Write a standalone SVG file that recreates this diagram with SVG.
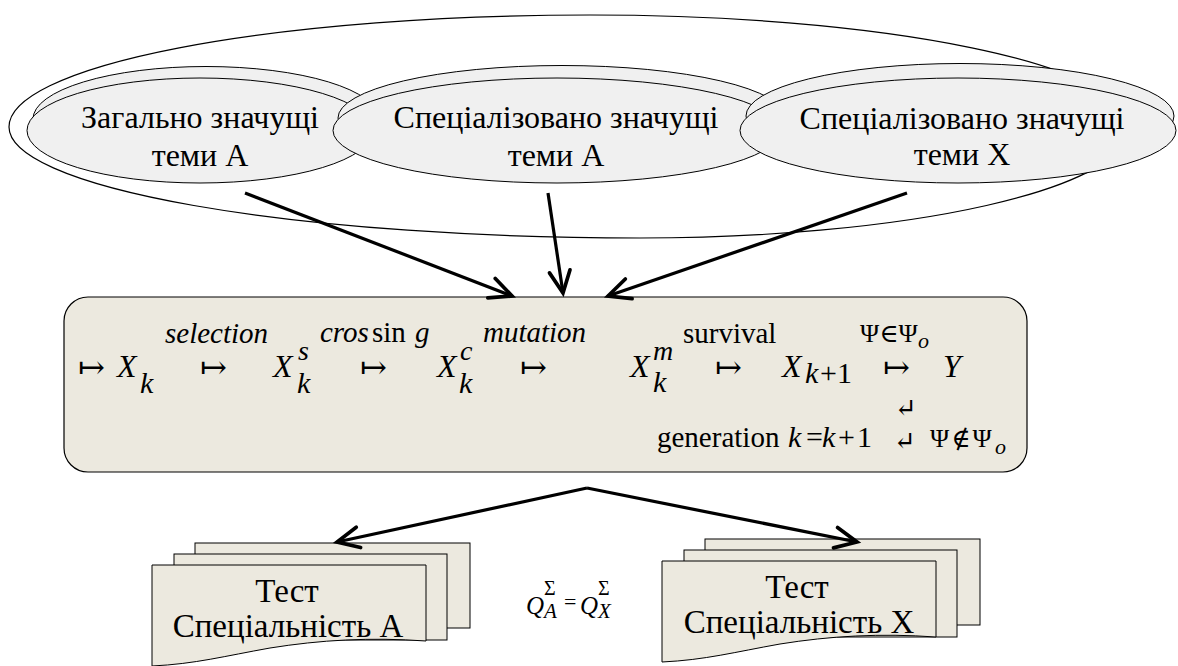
<svg xmlns="http://www.w3.org/2000/svg" width="1178" height="666" viewBox="0 0 1178 666">
<style>
.ell{fill:#f0f0f0;stroke:#000;stroke-width:1}
.t{fill:#000;font-family:"Liberation Serif","Times New Roman",Tinos,"DejaVu Serif",serif}
.big{font-size:32px}
.lab{font-size:29px}
.it{font-style:italic}
.con{fill:none;stroke:#000;stroke-width:3.2}
.doc{fill:#ece9df;stroke:#000;stroke-width:1}
</style>
<defs>
<marker id="ah" markerUnits="userSpaceOnUse" markerWidth="30" markerHeight="30" refX="0" refY="0" viewBox="-22 -12 26 24" orient="auto" overflow="visible">
<path d="M-19,-9 L0,0 L-19,9" fill="none" stroke="#000" stroke-width="3.2" stroke-linecap="round" stroke-linejoin="miter"/>
</marker>
</defs>
<rect x="0" y="0" width="1178" height="666" fill="#fff"/>
<g id="group-outer">
<path d="M9,127 A581,112 0 0 1 590,15 A540,112 0 0 1 1130,127 A490,111 0 0 1 640,238 A631,111 0 0 1 9,127 Z" fill="none" stroke="#000" stroke-width="1.2"/>
</g>
<g id="node-general-A">
<ellipse class="ell" cx="206" cy="119" rx="173" ry="52.5"/>
<ellipse class="ell" cx="200" cy="130.5" rx="173" ry="52.5"/>
<text class="t big" x="200" y="128" text-anchor="middle">Загально значущі</text>
<text class="t big" x="200" y="166" text-anchor="middle">теми А</text>
</g>
<g id="node-special-A">
<ellipse class="ell" cx="562" cy="118" rx="224" ry="52.5"/>
<ellipse class="ell" cx="557" cy="130.5" rx="224" ry="52.5"/>
<text class="t big" x="556" y="128" text-anchor="middle">Спеціалізовано значущі</text>
<text class="t big" x="556" y="166" text-anchor="middle">теми А</text>
</g>
<g id="node-special-X">
<ellipse class="ell" cx="960" cy="116" rx="214" ry="52.5"/>
<ellipse class="ell" cx="958" cy="130.5" rx="218" ry="52.5"/>
<text class="t big" x="962" y="129" text-anchor="middle">Спеціалізовано значущі</text>
<text class="t big" x="962" y="165" text-anchor="middle">теми X</text>
</g>
<g id="node-process">
<rect x="64" y="297" width="963" height="175" rx="24" ry="24" fill="#ece9df" stroke="#000" stroke-width="1.2"/>
<text class="t big" x="78" y="378">↦</text>
<text class="t big it" x="117" y="377">X</text>
<text class="t it" font-size="30" x="140" y="393">k</text>
<text class="t lab it" x="165" y="343">selection</text>
<text class="t big" x="200" y="378">↦</text>
<text class="t big it" x="273" y="377">X</text>
<text class="t it" font-size="28" x="298" y="360">s</text>
<text class="t it" font-size="30" x="297" y="393">k</text>
<text class="t lab" x="320" y="342"><tspan class="it">cros</tspan><tspan x="372">sin</tspan><tspan class="it" x="415">g</tspan></text>
<text class="t big" x="360" y="378">↦</text>
<text class="t big it" x="437" y="377">X</text>
<text class="t it" font-size="28" x="460" y="360">c</text>
<text class="t it" font-size="30" x="459" y="393">k</text>
<text class="t lab it" x="483" y="342">mutation</text>
<text class="t big" x="520" y="378">↦</text>
<text class="t big it" x="630" y="377">X</text>
<text class="t it" font-size="28" x="653" y="360">m</text>
<text class="t it" font-size="30" x="653" y="392">k</text>
<text class="t lab" x="683" y="343">survival</text>
<text class="t big" x="715" y="378">↦</text>
<text class="t big it" x="782" y="377">X</text>
<text class="t" font-size="30" x="805" y="383"><tspan class="it">k</tspan><tspan x="820">+</tspan><tspan x="837">1</tspan></text>
<text class="t big" x="883" y="378">↦</text>
<text class="t big it" x="943" y="377">Y</text>
<text class="t" font-size="26" x="860" y="342">Ψ∈Ψ</text>
<text class="t it" font-size="22" x="918" y="348">o</text>
<text class="t" font-size="26" x="895" y="417">↵</text>
<text class="t lab" x="657" y="447">generation</text>
<text class="t" font-size="30" y="447"><tspan class="it" x="788">k</tspan><tspan x="806">=</tspan><tspan class="it" x="822">k</tspan><tspan x="838">+</tspan><tspan x="857">1</tspan></text>
<text class="t" font-size="26" x="894" y="450">↵</text>
<text class="t" font-size="26" x="930" y="447" letter-spacing="2">Ψ∉Ψ</text>
<text class="t it" font-size="22" x="995" y="454">o</text>
</g>
<g id="node-test-A">
<rect class="doc" x="195" y="543" width="275" height="85"/>
<rect class="doc" x="174" y="554" width="273" height="86"/>
<path class="doc" d="M152,565 H426 V641 C 370,637 320,640 270,648 C 225,656 195,664 152,666 Z"/>
<text class="t" font-size="33" x="287" y="602" text-anchor="middle">Тест</text>
<text class="t" font-size="33" x="288" y="637" text-anchor="middle">Спеціальність А</text>
</g>
<g id="node-test-X">
<rect class="doc" x="705" y="539" width="275" height="86"/>
<rect class="doc" x="684" y="550" width="273" height="87"/>
<path class="doc" d="M662,561 H936 V637 C 880,633 830,636 780,644 C 735,652 705,660 662,662 Z"/>
<text class="t" font-size="33" x="797" y="598" text-anchor="middle">Тест</text>
<text class="t" font-size="33" x="799" y="633" text-anchor="middle">Спеціальність X</text>
</g>
<g id="formula">
<text class="t it" font-size="25" x="526" y="614">Q</text>
<text class="t" font-size="20" x="544" y="595">Σ</text>
<text class="t it" font-size="21" x="544" y="618">A</text>
<text class="t" font-size="22" x="564" y="609">=</text>
<text class="t it" font-size="25" x="580" y="614">Q</text>
<text class="t" font-size="20" x="598" y="595">Σ</text>
<text class="t it" font-size="21" x="598" y="618">X</text>
</g>
<g id="connectors">
<line class="con" x1="245" y1="193" x2="512" y2="296" marker-end="url(#ah)"/>
<line class="con" x1="548" y1="193" x2="563" y2="293" marker-end="url(#ah)"/>
<line class="con" x1="907" y1="193" x2="608" y2="296" marker-end="url(#ah)"/>
<line class="con" x1="587" y1="488" x2="337" y2="542" marker-end="url(#ah)"/>
<line class="con" x1="587" y1="488" x2="857" y2="542" marker-end="url(#ah)"/>
</g>
</svg>
